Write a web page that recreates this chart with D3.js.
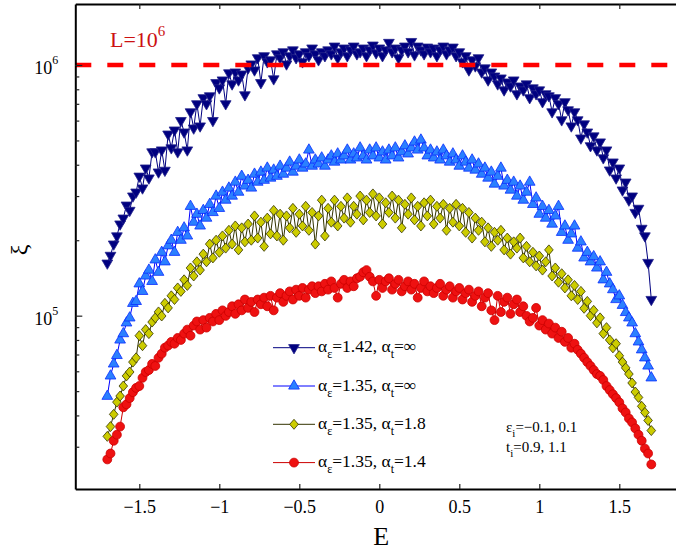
<!DOCTYPE html>
<html>
<head>
<meta charset="utf-8">
<script src="https://cdn.jsdelivr.net/npm/d3@7"></script>
<style>
body { margin: 0; background: #fff; }
text { font-family: "Liberation Serif", "Times New Roman", serif; }
</style>
</head>
<body>
<script>
// Energy grid (E)
var energies = [
  -1.70,-1.68,-1.66,-1.64,-1.62,-1.60,-1.58,-1.56,-1.54,-1.52,
  -1.50,-1.48,-1.46,-1.44,-1.42,-1.40,-1.38,-1.36,-1.34,-1.32,
  -1.30,-1.28,-1.26,-1.24,-1.22,-1.20,-1.18,-1.16,-1.14,-1.12,
  -1.10,-1.08,-1.06,-1.04,-1.02,-1.00,-0.98,-0.96,-0.94,-0.92,
  -0.90,-0.88,-0.86,-0.84,-0.82,-0.80,-0.78,-0.76,-0.74,-0.72,
  -0.70,-0.68,-0.66,-0.64,-0.62,-0.60,-0.58,-0.56,-0.54,-0.52,
  -0.50,-0.48,-0.46,-0.44,-0.42,-0.40,-0.38,-0.36,-0.34,-0.32,
  -0.30,-0.28,-0.26,-0.24,-0.22,-0.20,-0.18,-0.16,-0.14,-0.12,
  -0.10,-0.08,-0.06,-0.04,-0.02,0.00,0.02,0.04,0.06,0.08,
  0.10,0.12,0.14,0.16,0.18,0.20,0.22,0.24,0.26,0.28,
  0.30,0.32,0.34,0.36,0.38,0.40,0.42,0.44,0.46,0.48,
  0.50,0.52,0.54,0.56,0.58,0.60,0.62,0.64,0.66,0.68,
  0.70,0.72,0.74,0.76,0.78,0.80,0.82,0.84,0.86,0.88,
  0.90,0.92,0.94,0.96,0.98,1.00,1.02,1.04,1.06,1.08,
  1.10,1.12,1.14,1.16,1.18,1.20,1.22,1.24,1.26,1.28,
  1.30,1.32,1.34,1.36,1.38,1.40,1.42,1.44,1.46,1.48,
  1.50,1.52,1.54,1.56,1.58,1.60,1.62,1.64,1.66,1.68,
  1.70
];

// xi values, in units of 10^3
var xiA142Inf = [
  162,174,193,208,232,245,276,263,300,311,
  360,323,388,354,450,450,374,458,380,530,
  467,550,450,600,540,458,650,560,700,571,
  740,700,753,600,850,810,871,700,930,840,
  937,871,920,760,973,1009,955,1068,850,1088,
  1029,1048,880,1107,1068,1128,1009,1088,1148,1068,
  1107,1029,1128,1088,1168,1107,1048,1128,1088,1148,
  1107,1189,1068,1128,1168,1088,1148,1189,1107,1128,
  1168,1088,1148,1200,1117,1168,1088,1148,1230,1128,
  1168,1068,1148,1189,1128,1240,1097,1189,1148,1107,
  1178,1128,1168,1088,1148,1189,1107,1148,1178,1088,
  1128,1029,1088,955,1048,991,1068,937,973,871,
  937,903,840,887,795,855,824,871,767,824,
  795,840,740,810,767,795,713,767,753,650,
  740,700,604,713,662,571,650,604,511,582,
  540,476,521,458,493,426,458,381,410,354,
  388,317,341,289,300,258,268,223,208,163,
  116
];

var xiA135Inf = [
  47.7,57.5,64.2,69.4,80,84.8,93.6,98,112,114,
  134,125,144,152,137,167,149,179,164,190,
  200,179,215,200,224,208,273,236,254,228,
  263,245,278,258,300,268,311,289,323,300,
  341,311,360,329,347,323,367,341,374,347,
  388,354,381,360,395,367,388,410,374,395,
  418,388,403,458,395,418,403,426,395,418,
  434,410,442,418,434,458,418,442,426,467,
  434,418,458,434,467,426,450,418,458,434,
  467,426,450,476,442,467,493,458,502,467,
  434,458,426,450,418,458,434,410,442,418,
  395,434,410,388,418,381,403,367,388,354,
  374,335,360,388,329,347,317,341,300,329,
  289,311,341,278,295,254,273,245,263,232,
  250,273,215,228,200,212,228,186,197,170,
  179,164,172,155,164,139,149,134,127,116,
  120,110,103,98,93.6,84.8,78.6,73.1,67.9,63.0,
  56.5
];

var xiA135T18 = [
  33.0,36.1,40.4,45.2,47.8,52.4,57.5,59.6,65.3,67.9,
  83.2,75.9,88,84.8,94.3,98,103.5,99.7,112,107.4,
  120,116,129,125,139,132,155,144,164,152,
  176,164,193,170,200,179,208,186,219,193,
  228,183,224,197,232,200,250,204,236,189,
  245,212,263,208,254,200,250,224,268,215,
  254,228,273,219,258,193,250,289,208,268,
  236,289,228,273,245,295,236,273,254,300,
  241,289,258,306,250,295,232,282,258,300,
  245,289,224,278,254,295,241,273,228,282,
  250,289,232,273,245,278,219,268,236,278,
  228,268,215,258,204,245,219,236,197,224,
  189,215,200,219,183,204,176,197,186,204,
  170,189,164,179,158,173,152,164,183,144,
  155,136,147,129,139,120,132,116,125,107,
  114,100,105,93.6,98,84.8,89.6,80,74.4,77.3,
  69.2,65.3,61.9,58.5,53.9,49.6,47.2,43.5,41.1,38.2,
  34.8
];

var xiA135T14 = [
  26.7,28.2,31.7,33.5,36.1,43.1,44.3,46.9,49.5,51.5,
  52.4,56.5,59.6,60.7,64.2,63.0,67.9,70.5,74.5,76.0,
  78.6,77.3,81.5,80,84.8,88,83.2,91.3,94.8,88,
  96,89.6,98,94.8,101.7,96,105,99.8,103.4,109,
  101.7,111,105,116,107.4,113.5,103.4,116,111,118,
  109,120,105,118,123,113.5,120,125,116,127,
  120,129,118,127,131,123,131,125,134,127,
  137,129,118,134,139,129,137,131,141,143,
  149,152,143,137,120,139,129,137,141,127,
  134,139,125,131,137,127,134,118,129,137,
  125,131,123,129,134,120,127,131,118,125,
  129,116,123,127,113.5,120,125,109,118,123,
  105,96,120,103.4,113.5,118,101.7,111,116,103.4,
  109,99.8,94.8,98,107.4,91.3,96,88,93,84.8,
  89.6,81.5,86.3,78.6,81.5,74.5,77.3,73.1,70.5,67.9,
  65.3,63.0,60.7,58.5,57.5,55.4,52.4,50.5,48.6,46.9,
  45.1,42.7,41.1,38.9,37.5,35.5,33.5,31.7,29.5,28.2,
  25.5
];

var xTicks = [-1.5, -1, -0.5, 0, 0.5, 1, 1.5];
var yMajor = [1e5, 1e6];
var yMinor = [3e4, 4e4, 5e4, 6e4, 7e4, 8e4, 9e4, 2e5, 3e5, 4e5, 5e5, 6e5, 7e5, 8e5, 9e5];
var sizeL = 1e6;

var w = 676, h = 553;
var x = d3.scaleLinear().domain([-1.9, 1.9]).range([75.3, 683.3]);
var y = d3.scaleLog().domain([2.035e4, 1.751e6]).range([489, 4]);

var svg = d3.select("body").append("svg")
  .attr("width", w).attr("height", h)
  .style("display", "block");

// Markers
var diamond = function (s) {
  return "M0," + (-s) + "L" + (s * 0.86) + ",0L0," + s + "L" + (-s * 0.86) + ",0Z";
};
var series = [
  {vals: xiA142Inf, a: "1.42", t: "∞", line: "#000080", fill: "#000080", stroke: "#23238c",
   path: d3.symbol().type(d3.symbolTriangle).size(50)(), rot: 180},
  {vals: xiA135Inf, a: "1.35", t: "∞", line: "#0000ff", fill: "#2b80ff", stroke: "#0a2cff",
   path: d3.symbol().type(d3.symbolTriangle).size(50)(), rot: 0},
  {vals: xiA135T18, a: "1.35", t: "1.8", line: "#333300", fill: "#cccc00", stroke: "#333300",
   path: diamond(5), rot: 0},
  {vals: xiA135T14, a: "1.35", t: "1.4", line: "#cc0000", fill: "#ee1111", stroke: "#cc0000",
   path: d3.symbol().type(d3.symbolCircle).size(62)(), rot: 0}
];

var line = d3.line()
  .x(function (d) { return x(d[0]); })
  .y(function (d) { return y(d[1]); });

series.forEach(function (s) {
  var pts = energies.map(function (e, i) { return [e, s.vals[i] * 1e3]; })
    .filter(function (d) { return !isNaN(d[1]); });
  var g = svg.append("g");
  g.append("path").datum(pts)
    .attr("d", line)
    .attr("fill", "none")
    .attr("stroke", s.line)
    .attr("stroke-width", 1);
  g.selectAll("path.mk").data(pts).enter().append("path")
    .attr("class", "mk")
    .attr("d", s.path)
    .attr("transform", function (d) {
      return "translate(" + x(d[0]) + "," + y(d[1]) + ") rotate(" + s.rot + ")";
    })
    .attr("fill", s.fill)
    .attr("stroke", s.stroke)
    .attr("stroke-width", 0.8);
});

// L = 10^6 reference line
svg.append("line")
  .attr("x1", x(-1.9)).attr("x2", x(1.9))
  .attr("y1", y(sizeL)).attr("y2", y(sizeL))
  .attr("stroke", "#ff0000")
  .attr("stroke-width", 4.5)
  .attr("stroke-dasharray", "16,16");

svg.append("text")
  .attr("x", 110).attr("y", 47)
  .attr("fill", "#cc1111")
  .style("font-size", "22px")
  .text("L=10")
  .append("tspan").attr("dy", -11).style("font-size", "15px").text("6");

// Axes
var axBottom = svg.append("g").attr("transform", "translate(0,489)")
  .call(d3.axisBottom(x).tickValues(xTicks).tickSize(-5).tickSizeOuter(0)
    .tickPadding(11).tickFormat(d3.format("~g")));
var axTop = svg.append("g").attr("transform", "translate(0,4)")
  .call(d3.axisTop(x).tickValues(xTicks).tickSize(-5).tickSizeOuter(0).tickFormat(""));
var axLeft = svg.append("g").attr("transform", "translate(75.3,0)")
  .call(d3.axisLeft(y).tickValues(yMajor).tickSize(-7).tickSizeOuter(0).tickFormat(""));
svg.append("g").attr("transform", "translate(75.3,0)")
  .call(d3.axisLeft(y).tickValues(yMinor).tickSize(-4).tickSizeOuter(0).tickFormat(""))
  .select(".domain").remove();

[axBottom, axTop, axLeft].forEach(function (a) {
  a.select(".domain").attr("stroke", "#000").attr("stroke-width", 2);
});
svg.selectAll(".tick line").attr("stroke", "#222").attr("stroke-width", 1.2);
axBottom.selectAll(".tick text")
  .style("font-size", "18px")
  .style("font-family", "Liberation Serif, serif")
  .attr("fill", "#000");

axLeft.selectAll(".tick").each(function (d) {
  var t = d3.select(this).append("text")
    .attr("x", -17).attr("y", 9)
    .attr("text-anchor", "end")
    .attr("fill", "#000")
    .style("font-size", "18px")
    .style("font-family", "Liberation Serif, serif")
    .text("10");
  t.append("tspan").attr("dy", -10).style("font-size", "12px").text(Math.round(Math.log10(d)));
});

// Axis titles
svg.append("text")
  .attr("transform", "translate(27,250) rotate(-90)")
  .attr("text-anchor", "middle")
  .style("font-size", "24px")
  .text("ξ");
svg.append("text")
  .attr("x", x(0) + 2).attr("y", 545)
  .attr("text-anchor", "middle")
  .style("font-size", "26px")
  .text("E");

// Legend
var legend = svg.selectAll(".legend").data(series).enter().append("g")
  .attr("class", "legend")
  .attr("transform", function (d, i) { return "translate(273," + (347.7 + i * 38.3) + ")"; });
legend.append("line")
  .attr("x1", 0).attr("x2", 42)
  .attr("stroke", function (d) { return d.line; })
  .attr("stroke-width", 1);
legend.append("path")
  .attr("d", function (d) { return d.path; })
  .attr("transform", function (d) { return "translate(21,0) rotate(" + d.rot + ")"; })
  .attr("fill", function (d) { return d.fill; })
  .attr("stroke", function (d) { return d.stroke; })
  .attr("stroke-width", 0.8);
var lt = legend.append("text")
  .attr("x", 45).attr("y", 4.5)
  .style("font-size", "17.5px");
lt.append("tspan").text("α");
lt.append("tspan").attr("dy", 6).style("font-size", "12px").text("ε");
lt.append("tspan").attr("dy", -6).text(function (d) { return "=" + d.a + ", α"; });
lt.append("tspan").attr("dy", 6).style("font-size", "12px").text("t");
lt.append("tspan").attr("dy", -6).text(function (d) { return "=" + d.t; });

// Disorder annotation
var n1 = svg.append("text").attr("x", 506).attr("y", 432).style("font-size", "15px");
n1.append("tspan").text("ε");
n1.append("tspan").attr("dy", 5).style("font-size", "11px").text("i");
n1.append("tspan").attr("dy", -5).text("=−0.1, 0.1");
var n2 = svg.append("text").attr("x", 506).attr("y", 452).style("font-size", "15px");
n2.append("tspan").text("t");
n2.append("tspan").attr("dy", 5).style("font-size", "11px").text("i");
n2.append("tspan").attr("dy", -5).text("=0.9, 1.1");
</script>
</body>
</html>
